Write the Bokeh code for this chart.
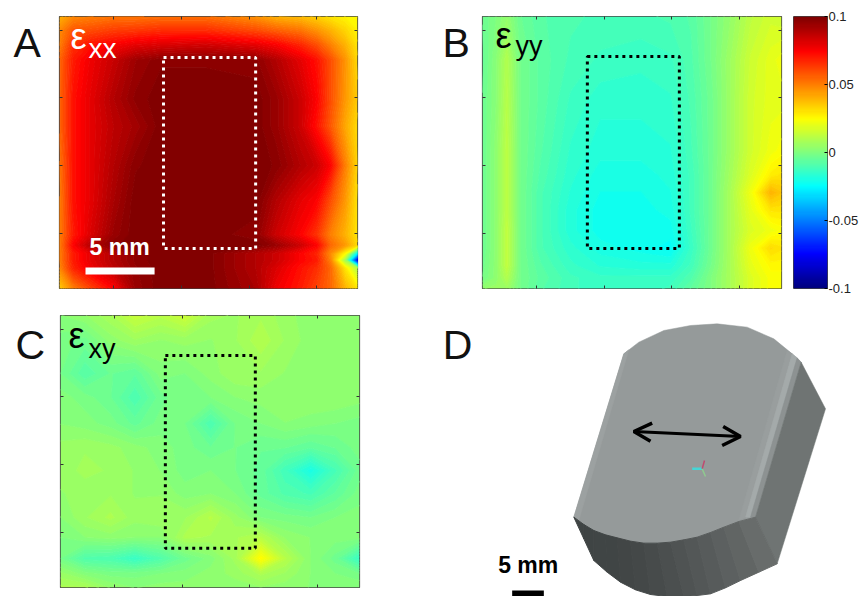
import numpy as np
from bokeh.embed import file_html
from bokeh.resources import INLINE
from bokeh.plotting import figure
from bokeh.layouts import column, row
from bokeh.models import Range1d, FixedTicker, LinearAxis, Label, LinearColorMapper

# ---- strain maps (values are strain x 1000) ----
exx_x = [1.0, 2.0, 3.3, 5.0, 6.6, 8.5, 11.8, 15.5, 17.0, 18.8, 20.0, 21.0, 22.1, 23.0]
exx_y = [4.0, 5.0, 6.1, 7.2, 10.1, 12.1, 15.0, 17.6, 20.1, 20.9, 21.5, 22.0, 22.6, 24.1]
exx = [
    [40, 48, 50, 52, 52, 53, 53, 46, 40, 38, 34, 30, 27, 25],
    [48, 58, 60, 63, 64, 66, 66, 60, 56, 52, 46, 40, 33, 27],
    [50, 66, 72, 76, 80, 82, 84, 80, 76, 68, 60, 50, 40, 30],
    [55, 70, 78, 86, 94, 98, 98, 97, 90, 80, 72, 60, 46, 32],
    [55, 72, 80, 90, 97, 100, 100, 100, 95, 85, 75, 60, 45, 35],
    [55, 72, 80, 88, 93, 100, 100, 100, 95, 85, 72, 58, 42, 32],
    [52, 72, 80, 90, 98, 100, 100, 100, 98, 90, 85, 75, 50, 33],
    [50, 72, 80, 92, 100, 100, 100, 100, 90, 80, 75, 60, 45, 30],
    [50, 70, 82, 95, 100, 100, 100, 97, 85, 75, 65, 50, 40, 30],
    [50, 75, 90, 98, 100, 100, 100, 100, 95, 85, 75, 55, 45, 32],
    [50, 70, 80, 90, 97, 100, 100, 90, 85, 75, 68, 48, 25, -30],
    [50, 70, 80, 90, 97, 100, 100, 90, 85, 75, 70, 50, 5, -85],
    [48, 68, 78, 88, 96, 100, 100, 90, 82, 72, 66, 55, 30, 10],
    [35, 50, 62, 75, 95, 100, 100, 92, 78, 70, 62, 55, 40, 30],
]

eyy_x = [1.0, 2.0, 2.8, 3.8, 5.3, 7.5, 9.7, 12.7, 14.9, 16.4, 17.9, 19.3, 20.8, 22.3, 23.1]
eyy_y = [4.0, 7.2, 10.2, 13.9, 15.7, 17.0, 18.3, 19.8, 21.1, 22.4, 23.3, 24.1]
eyy = [
    [-4, 0, 4, -4, -8, -10, -11, -11, -10, -8, -2, 4, 12, 16, 15],
    [-5, 2, 10, -2, -7, -11, -13, -14, -13, -9, -2, 6, 15, 20, 22],
    [-4, 2, 11, -2, -7, -13, -16, -16, -15, -10, -3, 6, 16, 20, 20],
    [-4, 3, 12, -2, -8, -15, -18, -18, -17, -11, -3, 6, 16, 22, 24],
    [-4, 3, 12, -2, -9, -16, -20, -20, -18, -12, -3, 7, 18, 28, 30],
    [-4, 3, 12, -2, -10, -17, -21, -21, -19, -12, -3, 8, 22, 40, 36],
    [-4, 3, 12, -2, -10, -18, -22, -22, -20, -12, -3, 8, 20, 30, 30],
    [-4, 3, 13, -2, -10, -18, -22, -23, -22, -13, -3, 8, 18, 22, 24],
    [-4, 3, 13, -2, -10, -16, -20, -22, -24, -14, -3, 8, 22, 32, 30],
    [-3, 3, 13, -2, -8, -14, -17, -18, -18, -12, -2, 8, 20, 26, 26],
    [-2, 3, 10, -2, -7, -12, -14, -14, -14, -9, 0, 8, 18, 24, 24],
    [4, 5, 6, -2, -8, -12, -14, -14, -12, -6, 0, 8, 18, 24, 24],
]

exy_x = [1.0, 2.8, 4.7, 6.5, 8.4, 10.2, 12.1, 13.9, 15.8, 17.6, 19.5, 21.3, 23.1]
exy_y = [4.0, 5.85, 8.28, 10.06, 11.98, 13.75, 15.45, 17.15, 18.92, 20.4, 21.95, 23.05, 24.09]
exy = [
    [2, 4, 8, 14, 11, 15, 7, 6, 8, 5, 3, 3, 3],
    [-1, -3, 3, 6, 4, 5, 4, 6, 10, 6, 3, 3, 3],
    [-2, -8, -4, -6, 1, 0, 3, 6, 6, 4, 3, 3, 3],
    [1, -1, -4, -10, -3, 0, 0, 2, 3, 4, 4, 4, 3],
    [2, 1, -1, -5, -1, -2, -10, -2, 0, 2, 1, 0, -1],
    [5, 6, 5, 3, 1, -1, -4, -2, -4, -4, -6, -4, -1],
    [5, 7, 6, 4, 2, -1, 0, -2, -5, -12, -20, -11, -3],
    [4, 5, 6, 4, 4, 1, 2, 0, -5, -9, -11, -6, -1],
    [2, 6, 9, 5, 6, 6, 11, 5, 0, -1, -2, 0, 1],
    [0, 2, 3, 2, 2, 9, 8, 8, 11, 4, 2, 1, 1],
    [-2, -9, -10, -14, -9, -3, 1, 7, 26, 11, 2, -3, -14],
    [5, 1, -1, -1, 0, 1, 3, 5, 9, 6, 2, 0, -2],
    [9, 9, 4, 2, 3, 3, 3, 3, 4, 3, 2, 2, 2],
]

map_ticks = [5, 10, 15, 20]
blank_labels = {5: "", 10: "", 15: "", 20: ""}
cbar_ticks = [-0.1, -0.05, 0, 0.05, 0.1]
cbar_labels = {-0.1: "-0.1", -0.05: "-0.05", 0: "0", 0.05: "0.05", 0.1: "0.1"}
gauge_a = (8.68, 15.48, 7.03, 21.13)
gauge_b = (8.75, 15.55, 6.95, 21.13)
gauge_c = (8.75, 15.40, 6.95, 21.20)
scale_a = ([2.92, 8.02], [22.8, 22.8])

# ---- part drawing of panel D, in its own drawing units ----
top_x = [430, 580, 625, 700, 780, 860, 950, 1030, 1085, 1112, 975, 925, 880, 840, 800, 760, 720, 680, 640, 600, 560, 525, 490, 460]
top_y = [650, 160, 125, 90, 75, 70, 80, 115, 160, 185, 650, 663, 680, 696, 710, 718, 725, 728, 728, 722, 712, 703, 690, 672]
side_x = [1112, 1185, 1040, 975]
side_y = [185, 325, 790, 650]
upper_x = [430, 460, 490, 525, 560, 600, 640, 680, 720, 760, 800, 840, 880, 925, 975]
upper_y = [650, 672, 690, 703, 712, 722, 728, 728, 725, 718, 710, 696, 680, 663, 650]
lower_x = [430, 460, 490, 530, 570, 615, 660, 710, 760, 800, 840, 885, 930, 985, 1040]
lower_y = [650, 715, 780, 815, 845, 868, 882, 888, 888, 885, 880, 862, 840, 815, 790]
lower_cols = ["#3f4444", "#3f4444", "#404545", "#404545", "#424646", "#444848", "#474b4b",
              "#4b4f4f", "#4f5353", "#535757", "#575b5b", "#5c6060", "#616564", "#686c6b"]
bevels = [
    ([1070, 1085, 945, 925], [150, 160, 650, 660], "#999e9e"),
    ([1085, 1100, 960, 945], [160, 172, 650, 650], "#a4aaaa"),
    ([1100, 1112, 975, 960], [172, 185, 650, 650], "#8d9292"),
    ([580, 595, 445, 430], [160, 148, 660, 650], "#9ca1a1"),
]


def jet(t):
    r = np.clip(1.5 - abs(4 * t - 3), 0, 1)
    g = np.clip(1.5 - abs(4 * t - 2), 0, 1)
    b = np.clip(1.5 - abs(4 * t - 1), 0, 1)
    return "#%02x%02x%02x" % (int(r * 255), int(g * 255), int(b * 255))


levels = list(np.linspace(-100.5, 100.5, 97))
fills = [jet(((levels[i] + levels[i + 1]) / 2 + 100) / 200) for i in range(96)]
edges = [jet(min(max((v + 100) / 200, 0), 1)) for v in levels]
PXMM = 13.54
FONT = "Liberation Sans"
RISE = 0.4  # the page draws a Label this fraction of its size below the anchor


def panel(xs, ys, zs, x_end, left, right, top, bottom, wid, hei, gauge, gauge_col):
    p = figure(width=wid, height=hei, output_backend="svg", toolbar_location=None,
               x_range=Range1d(1, x_end), y_range=Range1d(24.09, 4),
               min_border_left=left, min_border_right=right,
               min_border_top=top, min_border_bottom=bottom,
               background_fill_color=None, border_fill_color=None,
               outline_line_color="#444444", outline_line_width=1.2)
    p.grid.visible = False
    p.add_layout(LinearAxis(), "above")
    p.add_layout(LinearAxis(), "right")
    for ax in p.axis:
        ax.ticker = FixedTicker(ticks=map_ticks)
        ax.major_label_overrides = blank_labels
        ax.major_tick_in = 3
        ax.major_tick_out = 0
        ax.minor_tick_line_color = None
        ax.axis_line_color = None
        ax.major_tick_line_color = "#333333"
        ax.major_label_text_font_size = "1px"
        ax.major_label_standoff = 0
    p.contour(xs, ys, np.array(zs, dtype=float), levels,
              fill_color=fills, line_color=edges, line_width=1.2)
    p.quad(left=gauge[0], right=gauge[1], top=gauge[2], bottom=gauge[3],
           fill_color=None, line_color=gauge_col, line_width=3, line_dash="3 4")
    return p


def put(p, fl, ft, px, py, txt, size, col="black", style="normal"):
    p.add_layout(Label(x=1 + (px - fl) / PXMM, y=4 + (py - RISE * size - ft) / PXMM, text=txt,
                       text_font=FONT, text_font_size=f"{size}px", text_color=col,
                       text_font_style=style, text_baseline="alphabetic", text_align="left"))


def letter(txt, wid, hei, top, bottom, x, y):
    s = figure(width=wid, height=hei, output_backend="svg", toolbar_location=None,
               x_range=Range1d(0, wid), y_range=Range1d(hei - bottom, top),
               min_border_left=0, min_border_right=0, min_border_top=top, min_border_bottom=bottom,
               background_fill_color=None, border_fill_color=None, outline_line_color=None,
               x_axis_location=None, y_axis_location=None)
    s.grid.visible = False
    s.add_layout(Label(x=x, y=y - RISE * 41, text=txt, text_font=FONT, text_font_size="41px",
                       text_color="#111111", text_baseline="alphabetic"))
    return s


la = letter("A", 51, 300, 16, 12, 13, 59)
a = panel(exx_x, exx_y, exx, 23.0, 8, 73, 16, 12, 379, 300, gauge_a, "white")
put(a, 59, 16, 70, 50, "ε", 36, "white")
put(a, 59, 16, 88, 59, "xx", 28, "white")
a.line(scale_a[0], scale_a[1], line_color="white", line_width=7)
put(a, 59, 16, 89, 256, "5 mm", 23, "white", "bold")

lb = letter("B", 48, 300, 16, 12, 12, 59)
b = panel(eyy_x, eyy_y, eyy, 23.1, 4, 7, 16, 12, 310, 300, gauge_b, "black")
put(b, 482, 16, 495, 49, "ε", 36)
put(b, 482, 16, 515, 56, "yy", 27)

cb = figure(width=75, height=300, output_backend="svg", toolbar_location=None,
            x_range=Range1d(0, 1), y_range=Range1d(-0.1, 0.1),
            min_border_left=5, min_border_right=36, min_border_top=16, min_border_bottom=12,
            background_fill_color=None, border_fill_color=None,
            x_axis_location=None, y_axis_location="right",
            outline_line_color="#444444", outline_line_width=1)
cb.grid.visible = False
bar_vals = np.linspace(-0.1, 0.1, 128).reshape(-1, 1)
cb.image(image=[bar_vals], x=0, y=-0.1, dw=1, dh=0.2,
         color_mapper=LinearColorMapper(palette=[jet(t) for t in np.linspace(0, 1, 128)], low=-0.1, high=0.1))
yax = cb.yaxis[0]
yax.ticker = FixedTicker(ticks=cbar_ticks)
yax.major_label_overrides = cbar_labels
yax.major_tick_in = 3
yax.major_tick_out = 0
yax.minor_tick_line_color = None
yax.axis_line_color = None
yax.major_label_standoff = 1
yax.major_label_text_font = FONT
yax.major_label_text_font_size = "13px"
yax.major_label_text_color = "#222222"

lc = letter("C", 52, 296, 15, 9, 15, 61)
c = panel(exy_x, exy_y, exy, 23.1, 8, 71, 15, 9, 378, 296, gauge_c, "black")
put(c, 60, 315, 68, 349, "ε", 36)
put(c, 60, 315, 88, 359, "xy", 27)

d = figure(width=433, height=296, output_backend="svg", toolbar_location=None,
           x_range=Range1d(0, 1299), y_range=Range1d(888, 0),
           min_border=0, background_fill_color=None, border_fill_color=None,
           outline_line_color=None, x_axis_location=None, y_axis_location=None)
d.grid.visible = False
d.patch(top_x, top_y, fill_color="#959a9a", line_color="#959a9a", line_width=0.5)
for bx, by, bc in bevels:
    d.patch(bx, by, fill_color=bc, line_color=bc, line_width=0.5)
d.patch(side_x, side_y, fill_color="#6f7473", line_color="#6f7473", line_width=0.5)
for i in range(len(upper_x) - 1):
    d.patch([upper_x[i], upper_x[i + 1], lower_x[i + 1], lower_x[i]],
            [upper_y[i], upper_y[i + 1], lower_y[i + 1], lower_y[i]],
            fill_color=lower_cols[i], line_color=lower_cols[i], line_width=1)
d.line([610, 930], [393, 408], line_color="black", line_width=3)
d.line([665, 610, 660], [368, 393, 422], line_color="black", line_width=3.5)
d.line([878, 930, 875], [378, 408, 435], line_color="black", line_width=3.5)
d.line([815, 785], [505, 505], line_color="#45d6d6", line_width=2.5)
d.line([815, 822], [505, 480], line_color="#c04a70", line_width=1.5)
d.line([815, 825], [505, 528], line_color="#8fc98f", line_width=1.5)
d.quad(left=245, right=340, top=870, bottom=888, fill_color="black", line_color=None)
d.add_layout(Label(x=37, y=183 - 3 * RISE * 41, text="D", text_font=FONT, text_font_size="41px",
                   text_color="#111111", text_baseline="alphabetic"))
d.add_layout(Label(x=203, y=822 - 3 * RISE * 23, text="5 mm", text_font=FONT, text_font_size="23px",
                   text_font_style="bold", text_color="black", text_baseline="alphabetic"))

page = column(row(la, a, lb, b, cb, spacing=0),
              row(row(lc, c, spacing=0), column(d, spacing=0), spacing=0), spacing=0)
open("out.html", "w").write(file_html(page, INLINE))
